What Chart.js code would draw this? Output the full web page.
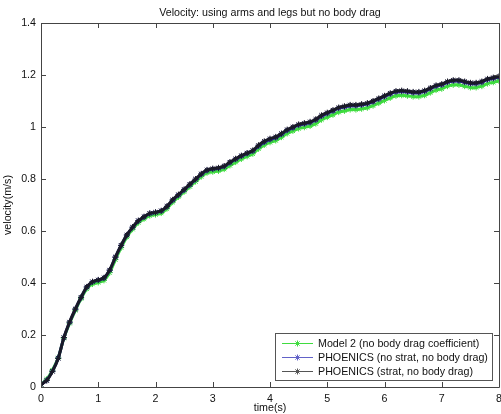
<!DOCTYPE html>
<html>
<head>
<meta charset="UTF-8">
<title>Velocity</title>
<script src="https://cdn.jsdelivr.net/npm/chart.js"></script>
<style>
  html, body { margin: 0; padding: 0; background: #fff; overflow: hidden; }
  canvas { display: block; }
</style>
</head>
<body>
<canvas id="velChart" width="508" height="414"></canvas>
<script>
  const times = [0, 0.1, 0.2, 0.3, 0.4, 0.5, 0.6, 0.7, 0.8, 0.9,
    1, 1.1, 1.2, 1.3, 1.4, 1.5, 1.6, 1.7, 1.8, 1.9,
    2, 2.1, 2.2, 2.3, 2.4, 2.5, 2.6, 2.7, 2.8, 2.9,
    3, 3.1, 3.2, 3.3, 3.4, 3.5, 3.6, 3.7, 3.8, 3.9,
    4, 4.1, 4.2, 4.3, 4.4, 4.5, 4.6, 4.7, 4.8, 4.9,
    5, 5.1, 5.2, 5.3, 5.4, 5.5, 5.6, 5.7, 5.8, 5.9,
    6, 6.1, 6.2, 6.3, 6.4, 6.5, 6.6, 6.7, 6.8, 6.9,
    7, 7.1, 7.2, 7.3, 7.4, 7.5, 7.6, 7.7, 7.8, 7.9, 8];

  // Model 2 (no body drag coefficient)
  const model2 = [0.010, 0.030, 0.065, 0.112, 0.188, 0.245, 0.295, 0.340, 0.378, 0.396,
    0.402, 0.410, 0.440, 0.490, 0.536, 0.577, 0.607, 0.632, 0.647, 0.659,
    0.663, 0.669, 0.686, 0.711, 0.731, 0.751, 0.771, 0.790, 0.809, 0.824,
    0.828, 0.831, 0.838, 0.852, 0.865, 0.877, 0.887, 0.897, 0.916, 0.931,
    0.941, 0.948, 0.961, 0.975, 0.985, 0.994, 0.999, 1.004, 1.013, 1.028,
    1.038, 1.047, 1.057, 1.062, 1.067, 1.067, 1.070, 1.074, 1.082, 1.092,
    1.102, 1.112, 1.120, 1.122, 1.120, 1.117, 1.117, 1.122, 1.132, 1.142,
    1.147, 1.157, 1.162, 1.162, 1.157, 1.152, 1.152, 1.157, 1.167, 1.172, 1.177];

  // PHOENICS (no strat, no body drag)
  const phoenicsNoStrat = [0.010, 0.026, 0.061, 0.111, 0.190, 0.249, 0.299, 0.344, 0.384, 0.404,
    0.411, 0.419, 0.449, 0.499, 0.544, 0.584, 0.614, 0.639, 0.654, 0.667,
    0.671, 0.677, 0.694, 0.718, 0.738, 0.758, 0.778, 0.798, 0.818, 0.833,
    0.838, 0.841, 0.848, 0.863, 0.876, 0.888, 0.898, 0.908, 0.927, 0.942,
    0.952, 0.959, 0.972, 0.987, 0.997, 1.007, 1.012, 1.017, 1.027, 1.042,
    1.052, 1.062, 1.072, 1.077, 1.082, 1.082, 1.085, 1.089, 1.097, 1.107,
    1.117, 1.127, 1.135, 1.137, 1.135, 1.132, 1.132, 1.137, 1.147, 1.157,
    1.162, 1.172, 1.177, 1.177, 1.172, 1.167, 1.167, 1.172, 1.182, 1.187, 1.192];

  // PHOENICS (strat, no body drag)
  const phoenicsStrat = [0.010, 0.025, 0.060, 0.110, 0.190, 0.250, 0.300, 0.345, 0.385, 0.405,
    0.412, 0.420, 0.450, 0.500, 0.545, 0.585, 0.615, 0.640, 0.655, 0.668,
    0.672, 0.678, 0.695, 0.720, 0.740, 0.760, 0.780, 0.800, 0.820, 0.835,
    0.840, 0.843, 0.850, 0.865, 0.878, 0.890, 0.900, 0.910, 0.930, 0.945,
    0.955, 0.962, 0.975, 0.990, 1.000, 1.010, 1.015, 1.020, 1.030, 1.045,
    1.055, 1.065, 1.075, 1.080, 1.085, 1.085, 1.088, 1.092, 1.100, 1.110,
    1.120, 1.130, 1.138, 1.140, 1.138, 1.135, 1.135, 1.140, 1.150, 1.160,
    1.165, 1.175, 1.180, 1.180, 1.175, 1.170, 1.170, 1.175, 1.185, 1.190, 1.195];

  const seriesNames = ['Model 2 (no body drag coefficient)',
    'PHOENICS (no strat, no body drag)',
    'PHOENICS (strat, no body drag)'];
  const seriesColors = ['#3fdc3f', '#2a2a9a', '#1a1a28'];
  const legendColors = ['#3fdc3f', '#6262c8', '#555'];
  const yTickLabels = ['0', '0.2', '0.4', '0.6', '0.8', '1', '1.2', '1.4'];
  const xTickLabels = ['0', '1', '2', '3', '4', '5', '6', '7', '8'];
  const chartTitle = 'Velocity: using arms and legs but no body drag';

  const FONT = 'Arial, "Liberation Sans", sans-serif';
  const FSIZE = 10.7;

  function pts(vals) {
    return vals.map((v, i) => ({ x: times[i], y: v }));
  }

  const allSeries = [model2, phoenicsNoStrat, phoenicsStrat];
  const datasets = allSeries.map((vals, i) => ({
    label: seriesNames[i],
    data: pts(vals),
    borderColor: seriesColors[i],
    backgroundColor: seriesColors[i],
    borderWidth: 3,
    pointStyle: 'star',
    pointRadius: 3,
    pointBorderWidth: 1,
    pointBorderColor: seriesColors[i],
    tension: 0.3,
    order: 3 - i
  }));

  // title, box, inward ticks and legend in MATLAB style
  const matlabFrame = {
    id: 'matlabFrame',
    afterDraw(chart) {
      const c = chart.ctx;
      const a = chart.chartArea;
      const xs = chart.scales.x, ys = chart.scales.y;
      c.save();
      c.fillStyle = '#111';
      c.font = FSIZE + 'px ' + FONT;
      c.textAlign = 'center';
      c.textBaseline = 'middle';
      c.fillText(chartTitle, (a.left + a.right) / 2, 13.5);

      c.strokeStyle = '#444';
      c.lineWidth = 1;
      c.beginPath();
      c.rect(a.left + 0.5, a.top + 0.5, a.right - a.left, a.bottom - a.top);
      c.stroke();
      c.beginPath();
      xs.ticks.forEach(t => {
        const px = Math.round(xs.getPixelForValue(t.value)) + 0.5;
        c.moveTo(px, a.bottom); c.lineTo(px, a.bottom - 5);
        c.moveTo(px, a.top); c.lineTo(px, a.top + 5);
      });
      ys.ticks.forEach(t => {
        const py = Math.round(ys.getPixelForValue(t.value)) + 0.5;
        c.moveTo(a.left, py); c.lineTo(a.left + 5, py);
        c.moveTo(a.right, py); c.lineTo(a.right - 5, py);
      });
      c.stroke();

      // legend
      const lx = 275, ly = 333, lw = 217, lh = 47;
      c.fillStyle = '#fff';
      c.fillRect(lx, ly, lw, lh);
      c.strokeStyle = '#555';
      c.strokeRect(lx + 0.5, ly + 0.5, lw, lh);
      c.textAlign = 'left';
      seriesNames.forEach((name, i) => {
        const y = ly + 10.5 + i * 14;
        c.strokeStyle = legendColors[i];
        c.beginPath();
        c.moveTo(282, y); c.lineTo(313, y);
        c.stroke();
        Chart.helpers.drawPoint(c, { pointStyle: 'star', radius: 3, borderWidth: 1 }, 297.5, y);
        c.fillStyle = '#111';
        c.fillText(name, 318, y + 0.5);
      });
      c.restore();
    }
  };

  new Chart(document.getElementById('velChart'), {
    type: 'line',
    data: { datasets: datasets },
    options: {
      responsive: false,
      animation: false,
      layout: { padding: { top: 23 } },
      plugins: {
        legend: { display: false },
        tooltip: { enabled: false },
        title: { display: false }
      },
      scales: {
        x: {
          type: 'linear',
          min: 0, max: 8,
          grid: { display: false, drawTicks: false },
          border: { display: false },
          ticks: {
            stepSize: 1,
            padding: 6,
            color: '#111',
            maxRotation: 0,
            font: { family: FONT, size: FSIZE },
            callback: (v, i) => xTickLabels[i]
          },
          title: {
            display: true, text: 'time(s)', color: '#111',
            font: { family: FONT, size: FSIZE },
            padding: 0
          },
          afterFit(s) { s.height = 27; }
        },
        y: {
          min: 0, max: 1.4,
          grid: { display: false, drawTicks: false },
          border: { display: false },
          ticks: {
            stepSize: 0.2,
            padding: 5,
            color: '#111',
            font: { family: FONT, size: FSIZE },
            callback: (v, i) => yTickLabels[i]
          },
          title: {
            display: true, text: 'velocity(m/s)', color: '#111',
            font: { family: FONT, size: FSIZE },
            padding: { top: 2, bottom: 0 }
          },
          afterFit(s) { s.width = 41; }
        }
      }
    },
    plugins: [matlabFrame]
  });
</script>
</body>
</html>
